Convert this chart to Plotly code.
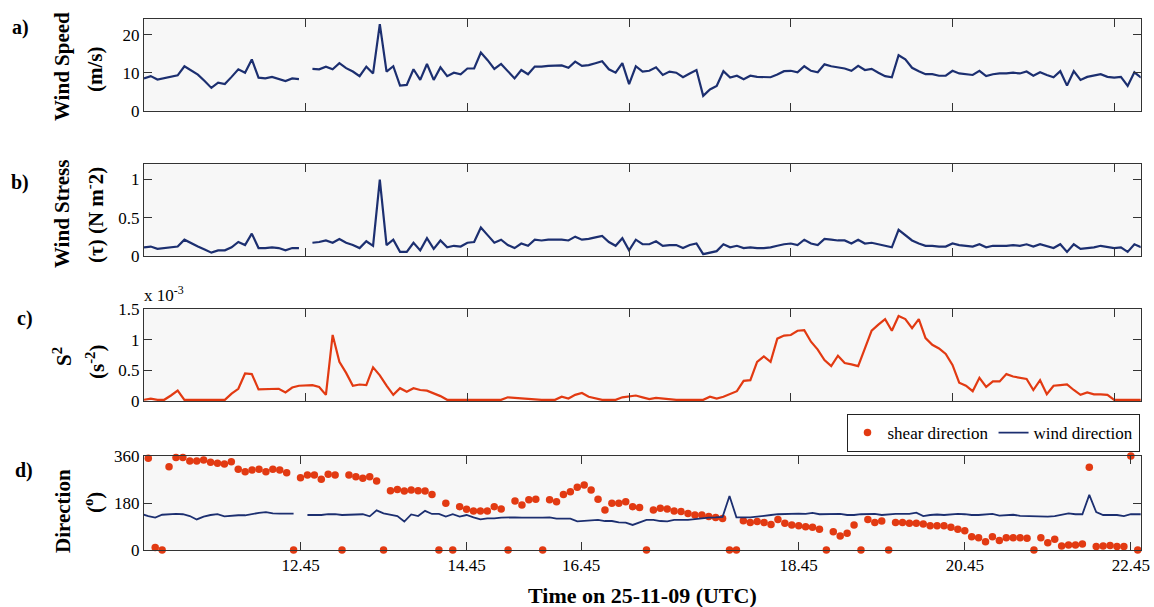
import numpy as np
import plotly.graph_objects as go

# ---------------------------------------------------------------------------
# Data: 5-minute records on 25-11-09, times in decimal hours (UTC)
# ---------------------------------------------------------------------------
wind_time = 10.75 + np.arange(149) / 12.0            # 10:45 -> 23:05
shear_time = 10.0 + 55 / 60 + np.arange(144) / 12.0  # 10:55 -> 22:50

wind_speed = [
    8.5, 9.1, 8.2, 8.5, 8.8, 9.3, 11.7, 10.6, 9.5, 7.8,
    6.0, 7.4, 7.0, 8.9, 10.9, 10.0, 13.5, 8.7, 8.5, 8.9,
    8.4, 7.8, 8.5, 8.3, None, 11.0, 10.9, 11.6, 10.9, 12.5,
    11.2, 10.3, 9.1, 11.6, 9.8, 22.8, 10.3, 11.7, 6.6, 6.8,
    10.9, 8.1, 12.3, 8.1, 11.4, 9.1, 10.0, 9.6, 11.1, 11.1,
    15.3, 13.3, 11.0, 12.3, 10.3, 8.5, 10.7, 9.6, 11.6, 11.6,
    11.8, 11.9, 11.9, 11.3, 12.9, 11.8, 12.0, 12.5, 13.0, 10.9,
    10.0, 12.5, 7.0, 11.7, 10.3, 10.5, 11.4, 9.4, 10.3, 10.0,
    8.8, 9.8, 10.7, 3.9, 5.6, 6.5, 10.4, 8.7, 9.2, 8.3,
    9.2, 8.9, 8.8, 8.8, 9.5, 10.4, 10.5, 10.1, 11.7, 10.5,
    10.1, 12.2, 11.7, 11.4, 11.1, 10.5, 11.8, 10.7, 11.0, 10.0,
    9.1, 8.8, 14.6, 13.5, 11.3, 10.4, 9.6, 9.6, 9.2, 9.2,
    10.5, 9.8, 9.6, 9.4, 10.5, 9.1, 9.6, 9.8, 9.8, 10.0,
    9.8, 10.3, 9.2, 10.1, 9.4, 8.8, 10.4, 6.6, 10.4, 8.1,
    8.9, 9.2, 9.6, 8.9, 8.7, 8.9, 6.5, 10.1, 8.7,
]

wind_stress = [
    0.11, 0.12, 0.09, 0.10, 0.11, 0.12, 0.21, 0.16, 0.12, 0.08,
    0.04, 0.07, 0.07, 0.11, 0.18, 0.14, 0.29, 0.10, 0.10, 0.11,
    0.10, 0.07, 0.10, 0.10, None, 0.17, 0.18, 0.20, 0.17, 0.22,
    0.17, 0.14, 0.10, 0.19, 0.13, 1.00, 0.14, 0.21, 0.05, 0.05,
    0.17, 0.07, 0.23, 0.09, 0.20, 0.11, 0.13, 0.12, 0.17, 0.18,
    0.37, 0.27, 0.17, 0.21, 0.14, 0.10, 0.16, 0.13, 0.21, 0.20,
    0.21, 0.21, 0.21, 0.20, 0.25, 0.21, 0.22, 0.24, 0.26, 0.18,
    0.13, 0.23, 0.07, 0.21, 0.15, 0.15, 0.19, 0.13, 0.14, 0.14,
    0.10, 0.14, 0.16, 0.02, 0.04, 0.06, 0.15, 0.11, 0.13, 0.10,
    0.11, 0.10, 0.10, 0.11, 0.13, 0.15, 0.16, 0.14, 0.21, 0.16,
    0.14, 0.22, 0.21, 0.20, 0.20, 0.16, 0.21, 0.16, 0.17, 0.15,
    0.12, 0.11, 0.34, 0.27, 0.20, 0.16, 0.13, 0.13, 0.12, 0.12,
    0.16, 0.14, 0.13, 0.12, 0.15, 0.11, 0.13, 0.13, 0.13, 0.14,
    0.13, 0.15, 0.12, 0.15, 0.12, 0.10, 0.15, 0.05, 0.15, 0.09,
    0.10, 0.11, 0.13, 0.11, 0.10, 0.11, 0.05, 0.15, 0.11,
]

# squared shear, in units of 1e-3 s^-2
shear_sq = [
    0.02, 0.04, 0.02, 0.02, 0.09, 0.17, 0.02, 0.02, 0.02, 0.02,
    0.02, 0.02, 0.02, 0.12, 0.20, 0.45, 0.44, 0.19, 0.19, 0.19,
    0.20, 0.14, 0.22, 0.25, 0.26, 0.26, 0.23, 0.10, 1.08, 0.64,
    0.46, 0.25, 0.27, 0.26, 0.55, 0.42, 0.25, 0.10, 0.21, 0.15,
    0.21, 0.18, 0.17, 0.13, 0.08, 0.02, 0.02, 0.02, 0.02, 0.02,
    0.02, 0.02, 0.02, 0.02, 0.06, 0.05, 0.05, 0.04, 0.02, 0.02,
    0.02, 0.02, 0.07, 0.04, 0.10, 0.13, 0.07, 0.04, 0.02, 0.02,
    0.02, 0.06, 0.07, 0.09, 0.06, 0.03, 0.05, 0.04, 0.02, 0.02,
    0.02, 0.02, 0.02, 0.02, 0.07, 0.04, 0.07, 0.11, 0.16, 0.33,
    0.34, 0.64, 0.73, 0.64, 1.02, 1.07, 1.08, 1.15, 1.16, 0.97,
    0.84, 0.67, 0.57, 0.74, 0.62, 0.60, 0.57, 0.86, 1.15, 1.25,
    1.34, 1.15, 1.39, 1.34, 1.19, 1.34, 1.03, 0.92, 0.86, 0.77,
    0.59, 0.30, 0.25, 0.16, 0.38, 0.23, 0.32, 0.32, 0.44, 0.40,
    0.38, 0.36, 0.18, 0.34, 0.11, 0.25, 0.26, 0.27, 0.18, 0.10,
    0.14, 0.11, 0.11, 0.10, 0.02, 0.02, 0.02, 0.02, 0.02,
]

wind_dir = [
    138, 138, 130, 124, 135, 137, 138, 137, 130, 117,
    128, 134, 137, 129, 132, 133, 133, 138, 142, 145,
    140, 139, 140, 139, None, 134, 133, 134, 137, 137,
    134, 135, 134, 137, 129, 152, 140, 136, 130, 109,
    136, 130, 150, 138, 138, 128, 137, 128, 134, 125,
    117, 121, 121, 124, 125, 125, 124, 125, 124, 124,
    125, 120, 119, 120, 110, 111, 112, 115, 111, 111,
    106, 105, 96, 105, 115, 115, 111, 110, 115, 115,
    115, 118, 122, 124, 125, 127, 207, 125, 125, 125,
    128, 130, 134, 137, 138, 138, 139, 138, 142, 137,
    138, 138, 138, 134, 134, 137, 138, 138, 134, 137,
    138, 138, 138, 143, 130, 134, 136, 134, 137, 138,
    137, 134, 134, 137, 138, 132, 134, 135, 131, 130,
    130, 128, 128, 130, 134, 140, 137, 137, 211, 145,
    134, 134, 134, 130, 137, 137, 137, 137, 137,
]

shear_dir = [
    351, 10, 0, 319, 354, 354, 341, 341, 345, 336,
    332, 329, 338, 309, 300, 306, 309, 300, 309, 306,
    296, 0, 277, 287, 287, 271, 290, 287, 0, 287,
    281, 275, 281, 264, 0, 227, 232, 226, 230, 227,
    226, 213, 0, 179, 0, 166, 156, 149, 149, 149,
    166, 157, 0, 188, 172, 192, 194, 0, 192, 185,
    213, 223, 240, 249, 230, 194, 153, 179, 179, 185,
    166, 163, 0, 153, 160, 157, 149, 147, 140, 134,
    134, 128, 124, 121, 0, 0, 112, 105, 109, 105,
    98, 117, 102, 96, 93, 89, 87, 79, 0, 70,
    54, 64, 96, 0, 117, 105, 111, 0, 105, 105,
    102, 102, 100, 93, 93, 93, 87, 79, 74, 51,
    47, 32, 51, 36, 47, 47, 47, 45, 0, 47,
    28, 41, 15, 19, 19, 23, 317, 13, 15, 17,
    13, 13, 360, 0,
]

time_ticks = [12.75, 14.75, 16.75, 18.75, 20.75, 22.75]
dir_ticks = [12.75, 14.75, 16.13, 18.75, 20.75, 22.75]
tick_text = ["12.45", "14.45", "16.45", "18.45", "20.45", "22.45"]

# ---------------------------------------------------------------------------
# Styling
# ---------------------------------------------------------------------------
W, H = 1154, 607
FONT = "Liberation Serif, Times New Roman, serif"
NAVY = "#1c2f70"
RED = "#e23a12"
BG = "#f7f7f7"
FRAME = "#333333"


def px_x(p):
    """pixel column -> paper fraction"""
    return p / W


def px_y(p):
    """pixel row -> paper fraction"""
    return 1 - p / H


x_dom = [px_x(144), px_x(1140.7)]
panels = {  # top / bottom edges in pixels
    1: (19.3, 110.7),
    2: (164.3, 255.7),
    3: (309.3, 401.0),
    4: (456.0, 550.0),
}

fig = go.Figure()

fig.add_trace(go.Scatter(x=wind_time, y=wind_speed, mode="lines",
                         line=dict(color=NAVY, width=2.2), connectgaps=False,
                         xaxis="x", yaxis="y", showlegend=False))
fig.add_trace(go.Scatter(x=wind_time, y=wind_stress, mode="lines",
                         line=dict(color=NAVY, width=2.2), connectgaps=False,
                         xaxis="x2", yaxis="y2", showlegend=False))
fig.add_trace(go.Scatter(x=wind_time, y=shear_sq, mode="lines",
                         line=dict(color=RED, width=2.2),
                         xaxis="x3", yaxis="y3", showlegend=False))
fig.add_trace(go.Scatter(x=shear_time, y=shear_dir, mode="markers",
                         marker=dict(color=RED, size=7.5),
                         cliponaxis=False, name="shear direction",
                         xaxis="x4", yaxis="y4"))
fig.add_trace(go.Scatter(x=wind_time, y=wind_dir, mode="lines",
                         line=dict(color=NAVY, width=1.8), connectgaps=False,
                         name="wind direction", xaxis="x4", yaxis="y4"))

common = dict(showgrid=False, zeroline=False, showline=True, linecolor=FRAME,
              linewidth=1, mirror="ticks", ticks="inside", ticklen=8,
              tickcolor=FRAME, automargin=False,
              tickfont=dict(family=FONT, size=17, color="black"))

y_specs = {
    1: dict(range=[0, 24.05], tickvals=[0, 10, 20]),
    2: dict(range=[0, 1.2], tickvals=[0, 0.5, 1], ticktext=["0", "0.5", "1"]),
    3: dict(range=[0, 1.5], tickvals=[0, 0.5, 1, 1.5], ticktext=["0", "0.5", "1", "1.5"]),
    4: dict(range=[0, 360], tickvals=[0, 180, 360]),
}

layout = dict(
    width=W, height=H,
    autosize=False,
    margin=dict(l=0, r=0, t=0, b=0, pad=0, autoexpand=False),
    paper_bgcolor="white",
    plot_bgcolor=BG,
    font=dict(family=FONT, color="black"),
    showlegend=True,
    legend=dict(orientation="h", x=px_x(1139.5), xanchor="right",
                y=px_y(414), yanchor="top", bgcolor="white",
                bordercolor="#222222", borderwidth=1,
                font=dict(family=FONT, size=17, color="black"),
                itemwidth=30, tracegroupgap=0),
)

for k in range(1, 5):
    top, bot = panels[k]
    sfx = "" if k == 1 else str(k)
    xa = dict(common, domain=x_dom, anchor="y" + sfx)
    if k < 4:
        xa.update(range=[10.75, 23.078], tickvals=time_ticks, showticklabels=False)
        if k > 1:
            xa["matches"] = "x"
    else:
        xa.update(range=[10.865, 22.869], tickvals=dir_ticks, ticktext=tick_text)
    ya = dict(common, domain=[px_y(bot), px_y(top)], anchor="x" + sfx,
              **y_specs[k])
    layout["xaxis" + sfx] = xa
    layout["yaxis" + sfx] = ya

fig.update_layout(**layout)

ann = []


def label(text, x, y, size=21, bold=True, angle=0, xanchor="center", yanchor="middle"):
    ann.append(dict(text=f"<b>{text}</b>" if bold else text,
                    x=px_x(x), y=px_y(y), xref="paper", yref="paper",
                    showarrow=False, textangle=angle,
                    xanchor=xanchor, yanchor=yanchor,
                    font=dict(family=FONT, size=size, color="black")))


# panel letters
label("a)", 20, 27, size=20)
label("b)", 20, 182, size=20)
label("c)", 25, 318, size=20)
label("d)", 24, 470, size=20)

# y-axis titles (two rotated lines each)
label("Wind Speed", 62, 67, angle=-90)
label("(m/s)", 95, 69, angle=-90)
label("Wind Stress", 62, 214, angle=-90)
label("(τ) (N m<sup>-</sup>2)", 95, 215, angle=-90)
label("S<sup>2</sup>", 62, 357, angle=-90)
label("(s<sup>-2</sup>)", 95, 362, angle=-90)
label("Direction", 63, 511, angle=-90)
label("(<sup>o</sup>)", 93, 503, angle=-90)

# exponent of panel c and bottom axis title
label("x 10<sup>-3</sup>", 142, 307, size=17, bold=False, xanchor="left", yanchor="bottom")
label("Time on 25-11-09 (UTC)", 642, 595, size=22)

fig.update_layout(annotations=ann)
fig.write_html("out.html")
